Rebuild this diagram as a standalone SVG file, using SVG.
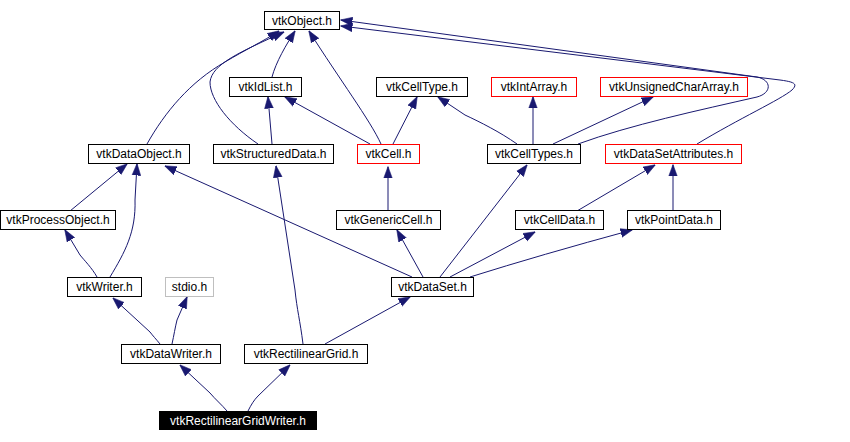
<svg xmlns="http://www.w3.org/2000/svg" width="850" height="442" viewBox="0 0 850 442">
<style>
.n rect{fill:#fff;stroke:#000;stroke-width:1}
.n.red rect{stroke:#ff0000}
.n.gray rect{stroke:#bfbfbf}
.n.main rect{fill:#000;stroke:#000}
.n text{font-family:"Liberation Sans",Arial,sans-serif;font-size:12px;fill:#000;text-anchor:middle}
.n.main text{fill:#fff}
#edges path{fill:none;stroke:#191970;stroke-width:1;marker-end:url(#ah)}
</style>
<defs>
<marker id="ah" markerUnits="userSpaceOnUse" markerWidth="12" markerHeight="10" viewBox="0 0 11 8" refX="10.5" refY="4" orient="auto">
<polygon points="0,0 11,4 0,8" fill="#191970" stroke="#191970" stroke-width="0.5"/>
</marker>
</defs>
<rect width="850" height="442" fill="#fff"/>
<g id="edges">
<path d="M147,144 C165,112 190,82 225,62 C245,50 262,42 279,31"/>
<path d="M258,144 C230,125 210,100 210,82 C212,64 240,52 284,32"/>
<path d="M272,77 C276,62 286,45 295,31"/>
<path d="M381,144 C370,120 340,80 309,31"/>
<path d="M578,144 C630,125 700,110 757,97 C772,93 772,80 757,77 L341,20"/>
<path d="M697,144 C740,118 780,100 792,90 C798,84 795,82 780,80 L341,26"/>
<path d="M272,144 L268,97"/>
<path d="M370,144 L285,97"/>
<path d="M393,144 L417,97"/>
<path d="M517,144 C500,132 480,122 465,115 L438,97"/>
<path d="M533,144 L533,97"/>
<path d="M553,144 L653,97"/>
<path d="M70,211 L127,164"/>
<path d="M110,277 C125,252 136,232 135,200 L137,164"/>
<path d="M412,277 L165,166"/>
<path d="M388,211 L388,167"/>
<path d="M423,277 L397,230"/>
<path d="M440,277 L527,165"/>
<path d="M450,277 L535,232"/>
<path d="M470,277 Q540,255 632,230"/>
<path d="M577,211 L655,165"/>
<path d="M673,211 L673,165"/>
<path d="M97,277 C92,268 84,260 80,255 L65,230"/>
<path d="M160,344 C156,339 153,336 150,332 L113,298"/>
<path d="M172,344 C174,335 175,328 177,320 L187,297"/>
<path d="M303,344 C300,320 297,310 295,290 L276,166"/>
<path d="M325,344 L410,297"/>
<path d="M227,411 C222,405 215,399 210,393 L180,365"/>
<path d="M248,411 C251,405 254,400 258,396 L290,365"/>
</g>
<g id="vtkObject" class="n"><rect x="264.5" y="11.5" width="75" height="18"/><text x="302" y="25">vtkObject.h</text></g>
<g id="vtkIdList" class="n"><rect x="229.5" y="77.5" width="72" height="19"/><text x="265.5" y="91">vtkIdList.h</text></g>
<g id="vtkCellType" class="n"><rect x="376.5" y="77.5" width="91" height="19"/><text x="422" y="91">vtkCellType.h</text></g>
<g id="vtkIntArray" class="n red"><rect x="491.5" y="77.5" width="85" height="19"/><text x="534" y="91">vtkIntArray.h</text></g>
<g id="vtkUnsignedCharArray" class="n red"><rect x="600.5" y="77.5" width="147" height="19"/><text x="674" y="91">vtkUnsignedCharArray.h</text></g>
<g id="vtkDataObject" class="n"><rect x="88.5" y="144.5" width="101" height="19"/><text x="139" y="158">vtkDataObject.h</text></g>
<g id="vtkStructuredData" class="n"><rect x="213.5" y="144.5" width="120" height="19"/><text x="273.5" y="158">vtkStructuredData.h</text></g>
<g id="vtkCell" class="n red"><rect x="357.5" y="144.5" width="62" height="19"/><text x="388.5" y="158">vtkCell.h</text></g>
<g id="vtkCellTypes" class="n"><rect x="487.5" y="144.5" width="93" height="19"/><text x="534" y="158">vtkCellTypes.h</text></g>
<g id="vtkDataSetAttributes" class="n red"><rect x="605.5" y="144.5" width="136" height="19"/><text x="673.5" y="158">vtkDataSetAttributes.h</text></g>
<g id="vtkProcessObject" class="n"><rect x="0.5" y="210.5" width="115" height="19"/><text x="58" y="224">vtkProcessObject.h</text></g>
<g id="vtkGenericCell" class="n"><rect x="336.5" y="210.5" width="104" height="19"/><text x="388.5" y="224">vtkGenericCell.h</text></g>
<g id="vtkCellData" class="n"><rect x="515.5" y="210.5" width="88" height="19"/><text x="559.5" y="224">vtkCellData.h</text></g>
<g id="vtkPointData" class="n"><rect x="627.5" y="210.5" width="93" height="19"/><text x="674" y="224">vtkPointData.h</text></g>
<g id="vtkWriter" class="n"><rect x="67.5" y="277.5" width="74" height="19"/><text x="104.5" y="291">vtkWriter.h</text></g>
<g id="stdio" class="n gray"><rect x="165.5" y="277.5" width="48" height="19"/><text x="189.5" y="291">stdio.h</text></g>
<g id="vtkDataSet" class="n"><rect x="391.5" y="277.5" width="82" height="19"/><text x="432.5" y="291">vtkDataSet.h</text></g>
<g id="vtkDataWriter" class="n"><rect x="121.5" y="344.5" width="99" height="19"/><text x="171" y="358">vtkDataWriter.h</text></g>
<g id="vtkRectilinearGrid" class="n"><rect x="244.5" y="344.5" width="123" height="19"/><text x="306" y="358">vtkRectilinearGrid.h</text></g>
<g id="vtkRectilinearGridWriter" class="n main"><rect x="159.5" y="411.5" width="157" height="18"/><text x="238" y="425">vtkRectilinearGridWriter.h</text></g>
</svg>
